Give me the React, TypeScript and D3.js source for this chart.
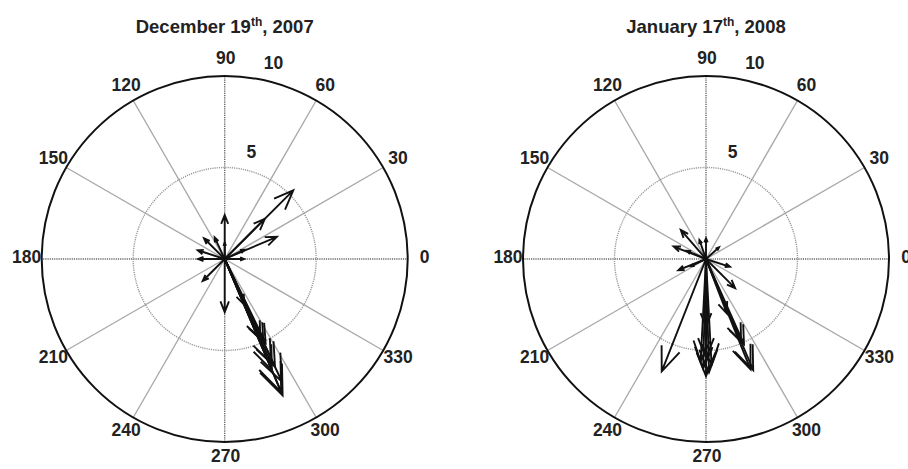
import { useEffect } from "react";
import * as d3 from "d3";

// Direction (deg, counter-clockwise from east) and magnitude of each arrow
const DEC_ANGLES = [45, 45, 23, 25, 0, 90, 90, 115, 135, 162, 180, 225, 270, 293, 294, 295, 296, 294, 295, 293, 295, 293, 293];
const DEC_MAGS = [5.3, 3.1, 3.1, 1.2, 1.05, 2.4, 0.9, 1.3, 1.6, 1.55, 1.45, 1.7, 2.9, 2.7, 4.8, 5.0, 5.1, 6.2, 6.5, 6.6, 7.4, 7.9, 8.1];

const JAN_ANGLES = [90, 109, 131, 159, 157, 42, 202, 206, 342, 315, 248.5, 270, 270, 271.5, 268.5, 273, 267, 270, 291, 293, 294, 292, 293];
const JAN_MAGS = [1.13, 1.1, 2.1, 1.9, 1.14, 0.96, 1.63, 0.9, 1.38, 2.25, 6.6, 3.7, 6.4, 6.2, 6.0, 5.8, 5.6, 5.4, 3.2, 4.9, 5.1, 6.5, 6.6];

const SPOKES = [0, 30, 60, 90, 120, 150, 180, 210, 240, 270, 300, 330];
const RINGS = [5, 10];
const R_MAX = 10;

const FONT = "'Liberation Sans', Arial, sans-serif";
const FS = 17.5;
const W = 908;
const H = 469;
const RADIUS = 183;
const CY = 259;

interface PlotProps {
  cx: number;
  title: [string, string, string];
  angles: number[];
  mags: number[];
}

function Compass({ cx, title, angles, mags }: PlotProps) {
  const r = d3.scaleLinear().domain([0, R_MAX]).range([0, RADIUS]);
  const toXY = (re: number, im: number): [number, number] => {
    const m = Math.hypot(re, im);
    const a = Math.atan2(im, re);
    return [cx + r(m) * Math.cos(a), CY - r(m) * Math.sin(a)];
  };
  const rad = (d: number) => (d * Math.PI) / 180;

  const arrows = angles.map((ang, i) => {
    const t = rad(ang);
    const m = mags[i];
    const zr = m * Math.cos(t);
    const zi = m * Math.sin(t);
    // complex multiply z * (a + bi)
    const mul = (a: number, b: number): [number, number] => toXY(zr * a - zi * b, zr * b + zi * a);
    const tip = mul(1, 0);
    const h1 = mul(0.8, 0.08);
    const h2 = mul(0.8, -0.08);
    const p = d3.path();
    p.moveTo(cx, CY);
    p.lineTo(tip[0], tip[1]);
    p.moveTo(h1[0], h1[1]);
    p.lineTo(tip[0], tip[1]);
    p.lineTo(h2[0], h2[1]);
    return p.toString();
  });

  return (
    <g>
      <text x={cx} y={33} textAnchor="middle" fontFamily={FONT} fontWeight="bold" fontSize={18.5} fill="#222">
        {title[0]}
        <tspan fontSize={12} dy={-7}>{title[1]}</tspan>
        <tspan dy={7}>{title[2]}</tspan>
      </text>

      {/* spokes */}
      {SPOKES.map((s) => {
        const [x2, y2] = toXY(R_MAX * Math.cos(rad(s)), R_MAX * Math.sin(rad(s)));
        const major = s % 90 === 0;
        return (
          <line
            key={s}
            x1={cx}
            y1={CY}
            x2={x2}
            y2={y2}
            stroke={major ? "#666" : "#aaa"}
            strokeWidth={1.4}
            strokeDasharray={major ? "1.2,1" : undefined}
          />
        );
      })}

      {/* inner ring */}
      <circle cx={cx} cy={CY} r={r(RINGS[0])} fill="none" stroke="#999" strokeWidth={1.4} strokeDasharray="1.2,1" />
      {/* outer ring */}
      <circle cx={cx} cy={CY} r={r(RINGS[1])} fill="none" stroke="#111" strokeWidth={2} />

      {/* angle labels */}
      {SPOKES.map((s) => {
        const lr = RADIUS + 16;
        const x = cx + lr * Math.cos(rad(s)) + 1;
        const y = CY - lr * Math.sin(rad(s)) - 2;
        return (
          <text
            key={`l${s}`}
            x={x}
            y={y}
            dy="0.36em"
            textAnchor="middle"
            fontFamily={FONT}
            fontWeight="bold"
            fontSize={FS}
            fill="#222"
          >
            {s}
          </text>
        );
      })}

      {/* ring labels */}
      {RINGS.map((v) => {
        const lr = r(v) + 19;
        const a = rad(76);
        return (
          <text
            key={`r${v}`}
            x={cx + lr * Math.cos(a)}
            y={CY - lr * Math.sin(a)}
            dy="0.36em"
            textAnchor="middle"
            fontFamily={FONT}
            fontWeight="bold"
            fontSize={FS}
            fill="#222"
          >
            {v}
          </text>
        );
      })}

      {/* arrows */}
      {arrows.map((d, i) => (
        <path key={i} d={d} fill="none" stroke="#111" strokeWidth={1.9} strokeLinejoin="miter" />
      ))}
    </g>
  );
}

export default function App() {
  useEffect(() => {
    document.body.style.margin = "0";
  }, []);
  return (
    <svg width={W} height={H} style={{ display: "block", background: "#fff" }}>
      <Compass cx={224.7} title={["December 19", "th", ", 2007"]} angles={DEC_ANGLES} mags={DEC_MAGS} />
      <Compass cx={706} title={["January 17", "th", ", 2008"]} angles={JAN_ANGLES} mags={JAN_MAGS} />
    </svg>
  );
}
